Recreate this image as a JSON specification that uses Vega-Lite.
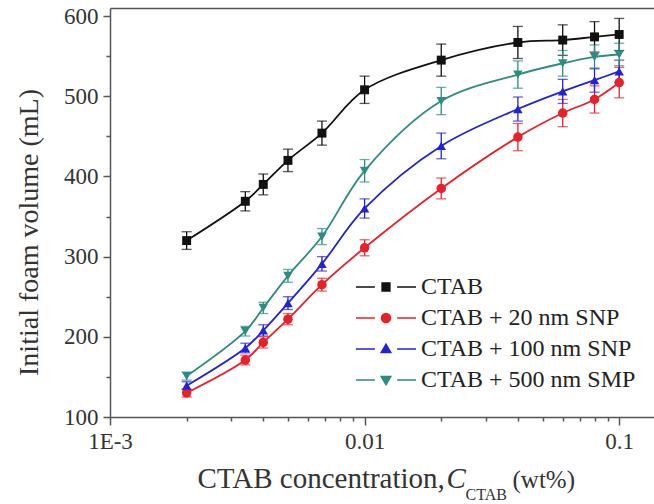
{
  "$schema": "https://vega.github.io/schema/vega-lite/v6.json",
  "width": 544,
  "height": 409,
  "autosize": {"type": "none"},
  "padding": {"left": 110, "top": 8, "right": 0, "bottom": 87},
  "background": "white",
  "config": {
    "view": {"stroke": null},
    "font": "Liberation Serif",
    "axis": {
      "labelFont": "Liberation Serif",
      "titleFont": "Liberation Serif",
      "domainColor": "#555",
      "tickColor": "#555",
      "labelColor": "#333",
      "titleColor": "#333",
      "grid": false,
      "domainWidth": 1.5,
      "tickWidth": 1.5,
      "labelFontWeight": "normal",
      "titleFontWeight": "normal"
    }
  },
  "data": {
    "values": [
      {"c": 0.002, "s": "CTAB", "v": 320, "e": 11},
      {"c": 0.0034, "s": "CTAB", "v": 369, "e": 12},
      {"c": 0.004, "s": "CTAB", "v": 390, "e": 13},
      {"c": 0.005, "s": "CTAB", "v": 420, "e": 14},
      {"c": 0.0068, "s": "CTAB", "v": 454, "e": 15},
      {"c": 0.01, "s": "CTAB", "v": 508, "e": 17},
      {"c": 0.02, "s": "CTAB", "v": 545, "e": 20},
      {"c": 0.04, "s": "CTAB", "v": 567, "e": 20},
      {"c": 0.06, "s": "CTAB", "v": 570, "e": 19},
      {"c": 0.08, "s": "CTAB", "v": 574, "e": 19},
      {"c": 0.1, "s": "CTAB", "v": 577, "e": 20},
      {"c": 0.002, "s": "CTAB + 20 nm SNP", "v": 130, "e": 5},
      {"c": 0.0034, "s": "CTAB + 20 nm SNP", "v": 171, "e": 6},
      {"c": 0.004, "s": "CTAB + 20 nm SNP", "v": 193, "e": 7},
      {"c": 0.005, "s": "CTAB + 20 nm SNP", "v": 222, "e": 7},
      {"c": 0.0068, "s": "CTAB + 20 nm SNP", "v": 265, "e": 8},
      {"c": 0.01, "s": "CTAB + 20 nm SNP", "v": 311, "e": 10},
      {"c": 0.02, "s": "CTAB + 20 nm SNP", "v": 385, "e": 13},
      {"c": 0.04, "s": "CTAB + 20 nm SNP", "v": 449, "e": 17},
      {"c": 0.06, "s": "CTAB + 20 nm SNP", "v": 479, "e": 17},
      {"c": 0.08, "s": "CTAB + 20 nm SNP", "v": 496, "e": 17},
      {"c": 0.1, "s": "CTAB + 20 nm SNP", "v": 517, "e": 19},
      {"c": 0.002, "s": "CTAB + 100 nm SNP", "v": 139, "e": 5},
      {"c": 0.0034, "s": "CTAB + 100 nm SNP", "v": 186, "e": 6},
      {"c": 0.004, "s": "CTAB + 100 nm SNP", "v": 208, "e": 7},
      {"c": 0.005, "s": "CTAB + 100 nm SNP", "v": 242, "e": 8},
      {"c": 0.0068, "s": "CTAB + 100 nm SNP", "v": 291, "e": 9},
      {"c": 0.01, "s": "CTAB + 100 nm SNP", "v": 360, "e": 12},
      {"c": 0.02, "s": "CTAB + 100 nm SNP", "v": 438, "e": 16},
      {"c": 0.04, "s": "CTAB + 100 nm SNP", "v": 484, "e": 15},
      {"c": 0.06, "s": "CTAB + 100 nm SNP", "v": 506, "e": 15},
      {"c": 0.08, "s": "CTAB + 100 nm SNP", "v": 520, "e": 15},
      {"c": 0.1, "s": "CTAB + 100 nm SNP", "v": 531, "e": 14},
      {"c": 0.002, "s": "CTAB + 500 nm SMP", "v": 151, "e": 5},
      {"c": 0.0034, "s": "CTAB + 500 nm SMP", "v": 207, "e": 6},
      {"c": 0.004, "s": "CTAB + 500 nm SMP", "v": 236, "e": 7},
      {"c": 0.005, "s": "CTAB + 500 nm SMP", "v": 276, "e": 8},
      {"c": 0.0068, "s": "CTAB + 500 nm SMP", "v": 325, "e": 10},
      {"c": 0.01, "s": "CTAB + 500 nm SMP", "v": 407, "e": 14},
      {"c": 0.02, "s": "CTAB + 500 nm SMP", "v": 494, "e": 17},
      {"c": 0.04, "s": "CTAB + 500 nm SMP", "v": 527, "e": 17},
      {"c": 0.06, "s": "CTAB + 500 nm SMP", "v": 541, "e": 16},
      {"c": 0.08, "s": "CTAB + 500 nm SMP", "v": 549, "e": 15},
      {"c": 0.1, "s": "CTAB + 500 nm SMP", "v": 552, "e": 14}
    ]
  },
  "layer": [
    {
      "mark": {"type": "errorbar", "ticks": {"size": 10}, "thickness": 1.3},
      "encoding": {
        "x": {
          "field": "c", "type": "quantitative",
          "scale": {"type": "log", "domain": [0.001, 0.137], "nice": false},
          "axis": {
            "orient": "bottom",
            "values": [0.001, 0.01, 0.1],
            "labelExpr": "datum.value < 0.005 ? '1E-3' : datum.value < 0.05 ? '0.01' : '0.1'",
            "labelFontSize": 23, "labelFlush": false, "tickSize": 8, "labelPadding": 5,
            "title": "CTAB concentration,", "titleFontSize": 29,
            "titleX": 87, "titleY": 70, "titleAlign": "left", "titleBaseline": "alphabetic"
          }
        },
        "y": {
          "field": "v", "type": "quantitative",
          "scale": {"domain": [100, 610], "nice": false, "zero": false},
          "axis": {
            "orient": "left",
            "values": [100, 200, 300, 400, 500, 600],
            "labelFontSize": 23, "labelFlush": false, "tickSize": 7, "labelPadding": 5,
            "title": "Initial foam volume (mL)", "titleFontSize": 28,
            "titleX": -73, "titleY": 224, "titleAngle": 270, "titleAlign": "center", "titleBaseline": "alphabetic"
          }
        },
        "yError": {"field": "e"},
        "color": {
          "field": "s", "type": "nominal",
          "scale": {"domain": ["CTAB", "CTAB + 20 nm SNP", "CTAB + 100 nm SNP", "CTAB + 500 nm SMP"], "range": ["#111111", "#e8202a", "#2323d6", "#2b8c82"]}
        }
      }
    },
    {
      "mark": {"type": "line", "interpolate": "catmull-rom", "strokeWidth": 1.8},
      "encoding": {
        "x": {
          "field": "c", "type": "quantitative",
          "scale": {"type": "log", "domain": [0.001, 0.137], "nice": false},
          "axis": {
            "orient": "bottom",
            "values": [0.002, 0.003, 0.004, 0.005, 0.006, 0.007, 0.008, 0.009, 0.02, 0.03, 0.04, 0.05, 0.06, 0.07, 0.08, 0.09],
            "labels": false, "domain": false, "tickSize": 4,
            "title": "C", "titleFontSize": 29, "titleFontStyle": "italic",
            "titleX": 336, "titleY": 70, "titleAlign": "left", "titleBaseline": "alphabetic"
          }
        },
        "y": {
          "field": "v", "type": "quantitative",
          "scale": {"domain": [100, 610], "nice": false, "zero": false},
          "axis": {
            "orient": "left",
            "values": [150, 250, 350, 450, 550],
            "labels": false, "domain": false, "tickSize": 4,
            "title": "(wt%)", "titleAngle": 0, "titleFontSize": 25,
            "titleX": 402, "titleY": 479, "titleAlign": "left", "titleBaseline": "alphabetic"
          }
        },
        "color": {
          "field": "s", "type": "nominal",
          "scale": {"domain": ["CTAB", "CTAB + 20 nm SNP", "CTAB + 100 nm SNP", "CTAB + 500 nm SMP"], "range": ["#111111", "#e8202a", "#2323d6", "#2b8c82"]},
          "legend": {
            "orient": "none", "legendX": 260, "legendY": 263, "title": null,
            "symbolSize": 900, "labelFontSize": 24, "labelFont": "Liberation Serif", "labelColor": "#222",
            "labelOffset": 19, "labelLimit": 400, "rowPadding": 3, "padding": 0, "symbolStrokeWidth": 1.5,
            "encode": {
              "symbols": {
                "update": {
                  "shape": {"signal": "datum.value === 'CTAB' ? 'M-2,0H-0.74M0.74,0H2M-0.26,-0.26H0.26V0.26H-0.26Z' : datum.value === 'CTAB + 20 nm SNP' ? 'M-2,0H-0.74M0.74,0H2M-0.3,0A0.3,0.3,0,1,0,0.3,0A0.3,0.3,0,1,0,-0.3,0Z' : datum.value === 'CTAB + 100 nm SNP' ? 'M-2,0H-0.74M0.74,0H2M-0.32,0.24L0.32,0.24L0,-0.32Z' : 'M-2,0H-0.74M0.74,0H2M-0.32,-0.24L0.32,-0.24L0,0.32Z'"},
                  "stroke": {"scale": "color", "field": "value"},
                  "fill": {"scale": "color", "field": "value"},
                  "strokeWidth": {"value": 1.5},
                  "opacity": {"value": 1}
                }
              }
            }
          }
        }
      }
    },
    {
      "transform": [{"filter": "datum.s === 'CTAB'"}],
      "mark": {"type": "square", "size": 80, "opacity": 1},
      "encoding": {
        "x": {
          "field": "c", "type": "quantitative",
          "scale": {"type": "log", "domain": [0.001, 0.137], "nice": false},
          "axis": {
            "orient": "top", "values": [], "labels": false, "ticks": false, "domain": true,
            "title": "CTAB", "titleFontSize": 16,
            "titleX": 355, "titleY": 491, "titleAlign": "left", "titleBaseline": "alphabetic"
          }
        },
        "y": {"field": "v", "type": "quantitative", "scale": {"domain": [100, 610], "nice": false, "zero": false}, "axis": null},
        "color": {"field": "s", "type": "nominal", "scale": {"domain": ["CTAB", "CTAB + 20 nm SNP", "CTAB + 100 nm SNP", "CTAB + 500 nm SMP"], "range": ["#111111", "#e8202a", "#2323d6", "#2b8c82"]}}
      }
    },
    {
      "transform": [{"filter": "datum.s === 'CTAB + 20 nm SNP'"}],
      "mark": {"type": "circle", "size": 90, "opacity": 1},
      "encoding": {
        "x": {"field": "c", "type": "quantitative", "scale": {"type": "log", "domain": [0.001, 0.137], "nice": false}, "axis": null},
        "y": {"field": "v", "type": "quantitative", "scale": {"domain": [100, 610], "nice": false, "zero": false}, "axis": null},
        "color": {"field": "s", "type": "nominal", "scale": {"domain": ["CTAB", "CTAB + 20 nm SNP", "CTAB + 100 nm SNP", "CTAB + 500 nm SMP"], "range": ["#111111", "#e8202a", "#2323d6", "#2b8c82"]}}
      }
    },
    {
      "transform": [{"filter": "datum.s === 'CTAB + 100 nm SNP'"}],
      "mark": {"type": "point", "shape": "triangle-up", "filled": true, "size": 90, "opacity": 1},
      "encoding": {
        "x": {"field": "c", "type": "quantitative", "scale": {"type": "log", "domain": [0.001, 0.137], "nice": false}, "axis": null},
        "y": {"field": "v", "type": "quantitative", "scale": {"domain": [100, 610], "nice": false, "zero": false}, "axis": null},
        "color": {"field": "s", "type": "nominal", "scale": {"domain": ["CTAB", "CTAB + 20 nm SNP", "CTAB + 100 nm SNP", "CTAB + 500 nm SMP"], "range": ["#111111", "#e8202a", "#2323d6", "#2b8c82"]}}
      }
    },
    {
      "transform": [{"filter": "datum.s === 'CTAB + 500 nm SMP'"}],
      "mark": {"type": "point", "shape": "triangle-down", "filled": true, "size": 90, "opacity": 1},
      "encoding": {
        "x": {"field": "c", "type": "quantitative", "scale": {"type": "log", "domain": [0.001, 0.137], "nice": false}, "axis": null},
        "y": {"field": "v", "type": "quantitative", "scale": {"domain": [100, 610], "nice": false, "zero": false}, "axis": null},
        "color": {"field": "s", "type": "nominal", "scale": {"domain": ["CTAB", "CTAB + 20 nm SNP", "CTAB + 100 nm SNP", "CTAB + 500 nm SMP"], "range": ["#111111", "#e8202a", "#2323d6", "#2b8c82"]}}
      }
    }
  ],
  "resolve": {"axis": {"x": "independent", "y": "independent"}}
}
